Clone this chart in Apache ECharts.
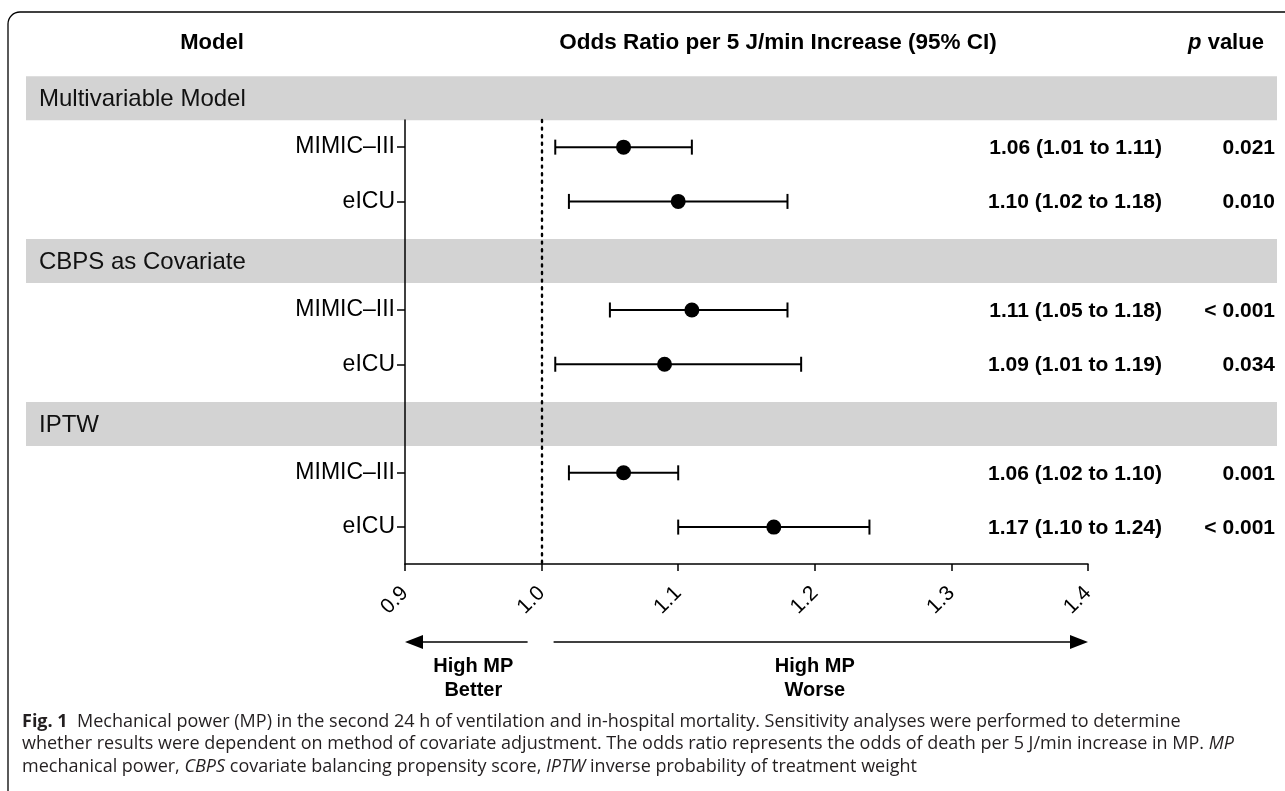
<!DOCTYPE html>
<html>
<head>
<meta charset="utf-8">
<script src="https://cdn.jsdelivr.net/npm/echarts@6/dist/echarts.min.js"></script>
<style>
  html, body { margin: 0; padding: 0; background: #fff; }
  #chart { width: 1285px; height: 791px; }
</style>
</head>
<body>
<div id="chart"></div>
<script>
var groupNames = ['Multivariable Model', 'CBPS as Covariate', 'IPTW'];
var rowLabels = ['MIMIC–III', 'eICU', 'MIMIC–III', 'eICU', 'MIMIC–III', 'eICU'];
var rowGroup = [0, 0, 1, 1, 2, 2];
var oddsRatio = [1.06, 1.10, 1.11, 1.09, 1.06, 1.17];
var ciLow = [1.01, 1.02, 1.05, 1.01, 1.02, 1.10];
var ciHigh = [1.11, 1.18, 1.18, 1.19, 1.10, 1.24];
var pValues = ['0.021', '0.010', '< 0.001', '0.034', '0.001', '< 0.001'];

var FONT = '"Liberation Sans", Arial, sans-serif';
var CAP = '"Open Sans", sans-serif';

// layout on the y scale: each block is a grey header then two rows
var bandPos = groupNames.map(function (g, i) { return i * 3; });
var rowPos = rowLabels.map(function (r, i) { return rowGroup[i] * 3 + 0.9 + (i % 2); });

function fmt2(v) { return v.toFixed(2); }

var chart = echarts.init(document.getElementById('chart'));

var option = {
  backgroundColor: '#fff',
  animation: false,
  grid: { left: 405, right: 197, top: 120, bottom: 227 },
  xAxis: {
    type: 'value', min: 0.9, max: 1.4, interval: 0.1, z: 5,
    axisLine: { lineStyle: { color: '#000', width: 1.5 } },
    axisTick: { length: 7, lineStyle: { color: '#000', width: 1.5 } },
    splitLine: { show: false },
    axisLabel: {
      rotate: 45, margin: 26, color: '#000', fontSize: 21, fontFamily: FONT,
      showMinLabel: true, showMaxLabel: true,
      formatter: function (v) { return v.toFixed(1); }
    }
  },
  yAxis: {
    type: 'value', inverse: true, min: 0.4, max: 8.58, z: 5,
    axisLine: { show: true, lineStyle: { color: '#000', width: 1.5 } },
    axisTick: { show: true, length: 8, customValues: rowPos, lineStyle: { color: '#000', width: 1.5 } },
    splitLine: { show: false },
    axisLabel: {
      customValues: rowPos, margin: 10, color: '#000', fontSize: 23, fontFamily: FONT,
      formatter: function (v) {
        var i = rowPos.findIndex(function (p) { return Math.abs(p - v) < 1e-6; });
        return i >= 0 ? rowLabels[i] : '';
      }
    }
  },
  series: [
    {
      // grey section headers
      type: 'custom', z: 1, clip: false, silent: true,
      data: bandPos.map(function (p, i) { return [1.0, p, i]; }),
      renderItem: function (params, api) {
        var y = api.coord([1.0, api.value(1)])[1];
        var w = api.getWidth();
        return {
          type: 'group',
          children: [
            { type: 'rect', shape: { x: 26, y: y - 22, width: w - 26 - 8, height: 44 }, style: { fill: '#d3d3d3' } },
            { type: 'text', x: 39, y: y + 1, style: { text: groupNames[api.value(2)], fill: '#111', font: '24px ' + FONT, verticalAlign: 'middle', align: 'left' } }
          ]
        };
      }
    },
    {
      // confidence intervals
      type: 'custom', z: 4, clip: false,
      data: rowPos.map(function (p, i) { return [ciLow[i], ciHigh[i], p]; }),
      encode: { x: [0, 1], y: 2 },
      renderItem: function (params, api) {
        var a = api.coord([api.value(0), api.value(2)]);
        var b = api.coord([api.value(1), api.value(2)]);
        var st = { stroke: '#000', lineWidth: 2 };
        return {
          type: 'group',
          children: [
            { type: 'line', shape: { x1: a[0], y1: a[1], x2: b[0], y2: b[1] }, style: st },
            { type: 'line', shape: { x1: a[0], y1: a[1] - 7.5, x2: a[0], y2: a[1] + 7.5 }, style: st },
            { type: 'line', shape: { x1: b[0], y1: b[1] - 7.5, x2: b[0], y2: b[1] + 7.5 }, style: st }
          ]
        };
      }
    },
    {
      type: 'scatter', z: 4,
      symbol: 'circle', symbolSize: 15,
      itemStyle: { color: '#000', opacity: 1 },
      data: rowPos.map(function (p, i) { return [oddsRatio[i], p]; }),
      markLine: {
        silent: true, symbol: ['none', 'none'], label: { show: false },
        lineStyle: { color: '#000', type: [2, 5.6], width: 2.4, cap: 'round', opacity: 1 },
        data: [{ xAxis: 1.0 }]
      }
    },
    {
      // estimate text and p value columns
      type: 'custom', z: 4, clip: false, silent: true,
      data: rowPos.map(function (p, i) { return [1.0, p, i]; }),
      renderItem: function (params, api) {
        var i = api.value(2);
        var y = api.coord([1.0, api.value(1)])[1];
        var w = api.getWidth();
        var txt = fmt2(oddsRatio[i]) + ' (' + fmt2(ciLow[i]) + ' to ' + fmt2(ciHigh[i]) + ')';
        return {
          type: 'group',
          children: [
            { type: 'text', x: w - 123, y: y + 1, style: { text: txt, fill: '#000', font: 'bold 21px ' + FONT, align: 'right', verticalAlign: 'middle' } },
            { type: 'text', x: w - 10, y: y + 1, style: { text: pValues[i], fill: '#000', font: 'bold 21px ' + FONT, align: 'right', verticalAlign: 'middle' } }
          ]
        };
      }
    }
  ]
};

chart.setOption(option);

var p09 = chart.convertToPixel({ gridIndex: 0 }, [0.9, 0]);
var p10 = chart.convertToPixel({ gridIndex: 0 }, [1.0, 0]);
var p14 = chart.convertToPixel({ gridIndex: 0 }, [1.4, 0]);
var arrowY = 642;
var ls = { stroke: '#000', lineWidth: 1.5 };

chart.setOption({
  graphic: [
    // frame
    { type: 'line', shape: { x1: 8, y1: 24, x2: 8, y2: 791 }, style: { stroke: '#000', lineWidth: 1.3 } },
    { type: 'line', shape: { x1: 20, y1: 12, x2: 1285, y2: 12 }, style: { stroke: '#000', lineWidth: 1.3 } },
    { type: 'arc', shape: { cx: 20, cy: 24, r: 12, startAngle: Math.PI, endAngle: Math.PI * 1.5, clockwise: true }, style: { stroke: '#000', lineWidth: 1.3, fill: null } },
    // column headers
    { type: 'text', x: 212, y: 43, style: { text: 'Model', font: 'bold 22px ' + FONT, fill: '#000', align: 'center', verticalAlign: 'middle' } },
    { type: 'text', x: 778, y: 43, style: { text: 'Odds Ratio per 5 J/min Increase (95% CI)', font: 'bold 22.5px ' + FONT, fill: '#000', align: 'center', verticalAlign: 'middle' } },
    { type: 'text', x: 1226, y: 43, style: {
      text: '{i|p} value', font: 'bold 22px ' + FONT, fill: '#000', align: 'center', verticalAlign: 'middle',
      rich: { i: { font: 'italic bold 22px ' + FONT, fill: '#000' } } } },
    // arrows
    { type: 'line', shape: { x1: p10[0] - 14, y1: arrowY, x2: p09[0] + 16, y2: arrowY }, style: ls },
    { type: 'polygon', shape: { points: [[p09[0], arrowY], [p09[0] + 18, arrowY - 7], [p09[0] + 18, arrowY + 7]] }, style: { fill: '#000' } },
    { type: 'line', shape: { x1: p10[0] + 12, y1: arrowY, x2: p14[0] - 16, y2: arrowY }, style: ls },
    { type: 'polygon', shape: { points: [[p14[0], arrowY], [p14[0] - 18, arrowY - 7], [p14[0] - 18, arrowY + 7]] }, style: { fill: '#000' } },
    { type: 'text', x: (p09[0] + p10[0]) / 2, y: 678, style: { text: 'High MP\nBetter', font: 'bold 20px ' + FONT, lineHeight: 24, fill: '#000', align: 'center', verticalAlign: 'middle' } },
    { type: 'text', x: (p10[0] + p14[0]) / 2, y: 678, style: { text: 'High MP\nWorse', font: 'bold 20px ' + FONT, lineHeight: 24, fill: '#000', align: 'center', verticalAlign: 'middle' } },
    // caption
    { type: 'text', x: 22, y: 710.5, style: {
      text: '{b|Fig. 1}  Mechanical power (MP) in the second 24 h of ventilation and in-hospital mortality. Sensitivity analyses were performed to determine\n' +
            'whether results were dependent on method of covariate adjustment. The odds ratio represents the odds of death per 5 J/min increase in MP. {i|MP}\n' +
            'mechanical power, {i|CBPS} covariate balancing propensity score, {i|IPTW} inverse probability of treatment weight',
      font: '18px ' + CAP, fill: '#231f20', lineHeight: 22.5, align: 'left', verticalAlign: 'top',
      rich: {
        b: { font: 'bold 18px ' + CAP, fill: '#231f20' },
        i: { font: 'italic 18px ' + CAP, fill: '#231f20' }
      } } }
  ]
});
</script>
</body>
</html>
